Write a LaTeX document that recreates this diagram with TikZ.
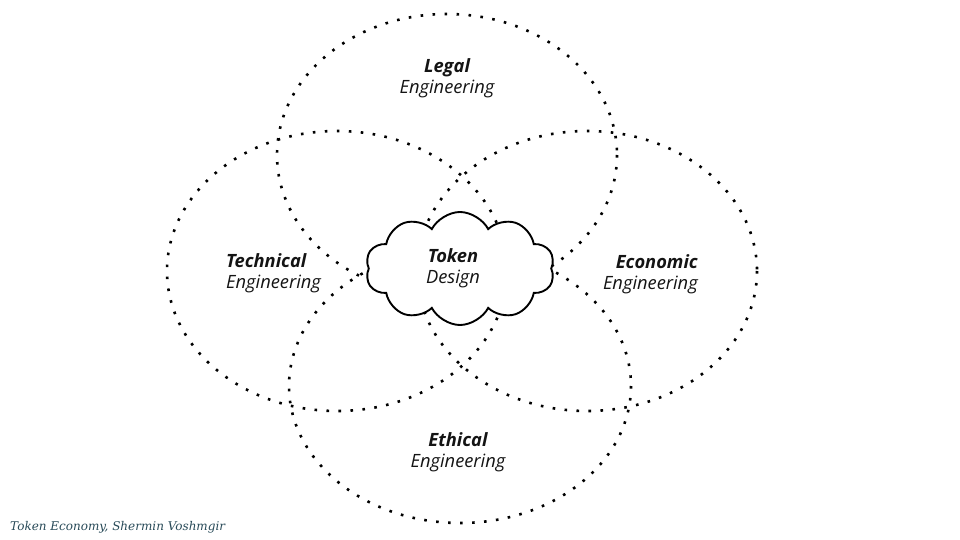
\documentclass[tikz,border=0pt]{standalone}
\usepackage{fontspec}
\setmainfont{Open Sans}
\newfontfamily\notefont{DejaVu Serif}
\usepackage{tikz}
\usetikzlibrary{shapes.symbols}
\definecolor{mydark}{RGB}{20,20,20}
\definecolor{mynote}{RGB}{40,74,88}
\tikzset{
  field/.style={draw=black, line width=2.6pt, dash pattern=on 2.6pt off 9.4pt},
  fieldlabel/.style={inner sep=0pt, font=\fontsize{18.3}{21}\selectfont\itshape,
    text=mydark},
  core/.style={cloud, draw=black, fill=white, line width=1.9pt, cloud puffs=10,
    cloud puff arc=125, aspect=1.7, minimum width=189pt, minimum height=113pt},
  note/.style={inner sep=0pt, font=\notefont\fontsize{12}{14}\selectfont\itshape,
    text=mynote}
}

\begin{document}
\begin{tikzpicture}[x=1pt, y=-1pt]
  \useasboundingbox (0,0) rectangle (960,540);

  % Fields
  \draw[field] (447,155) ellipse [x radius=170, y radius=141];
  \draw[field] (337,271) ellipse [x radius=170, y radius=140];
  \draw[field] (587,271) ellipse [x radius=170, y radius=140];
  \draw[field] (460,386) ellipse [x radius=171, y radius=137];

  % Token design in the middle
  \node[core] (token) at (460,268.5) {};
  \node[fieldlabel, align=center] (tokentext) at (453,268.5) {\textbf{Token}\\Design};

  % Labels
  \node[fieldlabel, align=center] (legal) at (447,78.5) {\textbf{Legal}\\Engineering};
  \node[fieldlabel, align=left, anchor=west] (technical) at (226,273) {\textbf{Technical}\\Engineering};
  \node[fieldlabel, align=right, anchor=east] (economic) at (698,274) {\textbf{Economic}\\Engineering};
  \node[fieldlabel, align=center] (ethical) at (458,452) {\textbf{Ethical}\\Engineering};

  % Source
  \node[note, anchor=base west] (source) at (10,530) {Token Economy, Shermin Voshmgir};
\end{tikzpicture}
\end{document}
